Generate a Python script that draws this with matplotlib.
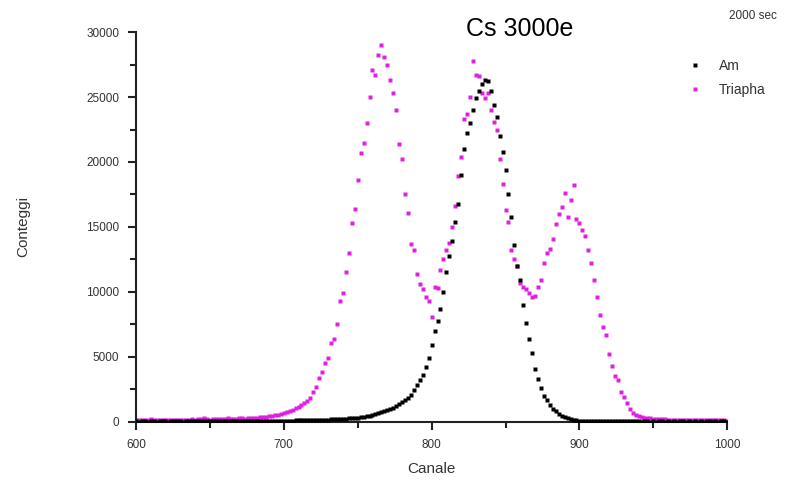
import numpy as np
import matplotlib
matplotlib.use('Agg')
import matplotlib.pyplot as plt
from matplotlib.ticker import MultipleLocator

plt.rcParams['font.family'] = ['Liberation Sans', 'DejaVu Sans']

#%% data (channel step 2)
canale = np.arange(600, 1001, 2)

am = [30, 25, 35, 30, 20, 30, 40, 25, 30, 35,
      30, 25, 40, 30, 35, 30, 25, 30, 40, 35,
      30, 40, 35, 30, 45, 40, 35, 50, 40, 45,
      50, 45, 55, 50, 60, 55, 60, 65, 60, 70,
      75, 70, 80, 75, 85, 80, 90, 85, 90, 95,
      80, 90, 95, 100, 110, 105, 115, 120, 125, 130,
      140, 145, 150, 160, 170, 180, 190, 200, 215, 225,
      240, 255, 270, 290, 310, 330, 360, 390, 440, 480,
      520, 580, 650, 720, 800, 890, 980, 1080, 1200, 1400,
      1550, 1700, 1850, 2100, 2450, 2800, 3200, 3600, 4200, 4900,
      5900, 7000, 7800, 8700, 10000, 11500, 12800, 13900, 15400, 16800,
      19000, 21000, 22200, 23000, 24000, 24900, 25500, 26000, 26300, 26200,
      25500, 24400, 23500, 22000, 20800, 19400, 17500, 15800, 13600, 12000,
      10900, 9000, 7600, 6400, 5300, 4100, 3300, 2600, 2000, 1700,
      1300, 1000, 800, 620, 480, 400, 330, 250, 180, 130,
      100, 90, 80, 70, 65, 60, 55, 50, 50, 45,
      40, 40, 35, 40, 35, 30, 35, 30, 30, 35,
      30, 25, 30, 30, 25, 30, 25, 30, 30, 25,
      30, 25, 30, 25, 30, 30, 25, 30, 25, 30,
      25, 30, 25, 30, 30, 25, 30, 25, 30, 30,
      25]

triapha = [150, 120, 180, 130, 160, 200, 140, 170, 110, 150,
           130, 160, 120, 140, 170, 130, 150, 180, 140, 200,
           170, 220, 190, 260, 210, 180, 230, 200, 250, 190,
           230, 270, 210, 250, 240, 290, 260, 230, 300, 280,
           320, 290, 350, 380, 360, 420, 480, 520, 560, 640,
           700, 760, 820, 900, 1050, 1180, 1300, 1450, 1600, 1800,
           2300, 2700, 3400, 3800, 4500, 4900, 6100, 6400, 7500, 9300,
           9900, 11500, 13000, 15300, 16400, 18600, 20700, 21500, 23000, 25000,
           27100, 26700, 28200, 29000, 28100, 27500, 26300, 25300, 24000, 21400,
           20200, 17500, 16100, 13700, 13200, 11400, 10600, 10200, 9600, 9300,
           8100, 10400, 10300, 11700, 12500, 13200, 13800, 15000, 16600, 18900,
           20400, 23300, 23700, 25000, 27800, 26700, 26600, 25300, 24900, 25300,
           24000, 23100, 22500, 20200, 18300, 16300, 15400, 13200, 12500, 12000,
           10700, 10400, 10200, 9900, 9600, 9700, 10400, 10900, 12200, 13000,
           13300, 14100, 15200, 16000, 16500, 17600, 15800, 17100, 18200, 15600,
           15300, 14800, 14300, 13200, 12200, 10900, 9600, 8200, 7300, 6700,
           5200, 4300, 3500, 3200, 2300, 1900, 1450, 1000, 700, 550,
           420, 380, 330, 300, 280, 250, 230, 210, 200, 190,
           180, 170, 160, 150, 170, 140, 160, 130, 150, 140,
           120, 150, 130, 140, 110, 130, 150, 120, 140, 110,
           100]

#%% figure
fig = plt.figure(figsize=(8.09, 4.86), dpi=100)
ax = fig.add_axes([0.168, 0.132, 0.731, 0.802])

ax.plot(canale, am, 's', ms=3.0, color='#000000', mec='none', label='Am', zorder=3)
ax.plot(canale, triapha, 's', ms=3.0, color='#e020e0', mec='none', label='Triapha', zorder=2)

ax.set_xlim(600, 1000)
ax.set_ylim(0, 30000)
ax.xaxis.set_major_locator(MultipleLocator(100))
ax.xaxis.set_minor_locator(MultipleLocator(50))
ax.yaxis.set_major_locator(MultipleLocator(5000))
ax.yaxis.set_minor_locator(MultipleLocator(2500))

for s in ['top', 'right']:
    ax.spines[s].set_visible(False)
for s in ['left', 'bottom']:
    ax.spines[s].set_linewidth(1.5)
    ax.spines[s].set_color('#222222')

ax.tick_params(which='major', direction='out', length=6, width=1.5, color='#222222',
               labelsize=8.5, labelcolor='#333333', pad=6)
ax.tick_params(which='minor', direction='out', length=4, width=1.5, color='#222222')

ax.set_xlabel('Canale', fontsize=11, color='#333333', labelpad=8)
ax.set_ylabel('Conteggi', fontsize=11, color='#333333', labelpad=40)

fig.text(0.643, 0.940, 'Cs 3000e', fontsize=18, ha='center', va='center')
fig.text(0.931, 0.967, '2000 sec', fontsize=8.5, ha='center', va='center', color='#333333')

leg = ax.legend(loc='upper left', bbox_to_anchor=(0.835, 0.905), bbox_transform=fig.transFigure,
                frameon=False, fontsize=10, handlelength=1.0, handletextpad=1.2,
                labelspacing=0.75, markerscale=1.1)
for t in leg.get_texts():
    t.set_color('#333333')

fig.savefig('out.png', dpi=100)
